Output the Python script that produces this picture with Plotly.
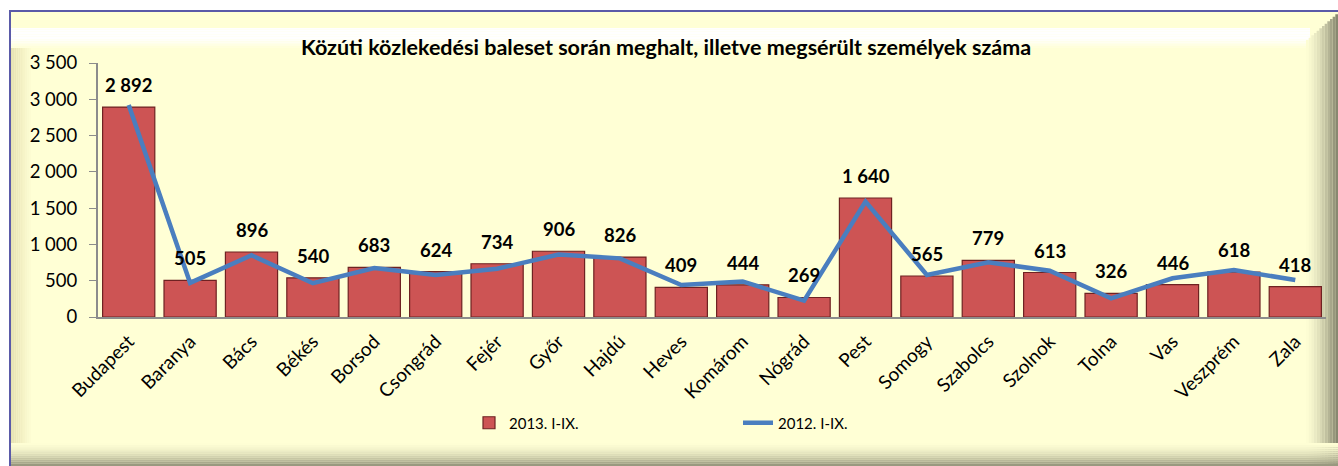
import plotly.graph_objects as go

categories = ["Budapest", "Baranya", "Bács", "Békés", "Borsod", "Csongrád", "Fejér", "Győr",
              "Hajdú", "Heves", "Komárom", "Nógrád", "Pest", "Somogy", "Szabolcs", "Szolnok",
              "Tolna", "Vas", "Veszprém", "Zala"]
values_2013 = [2892, 505, 896, 540, 683, 624, 734, 906, 826, 409, 444, 269, 1640, 565, 779, 613,
               326, 446, 618, 418]
values_2012 = [2920, 470, 850, 465, 675, 580, 665, 860, 808, 440, 490, 225, 1590, 578, 753, 638,
               257, 533, 647, 510]
y_ticks = [0, 500, 1000, 1500, 2000, 2500, 3000, 3500]
title_text = "Közúti közlekedési baleset során meghalt, illetve megsérült személyek száma"
name_2013 = "2013. I-IX."
name_2012 = "2012. I-IX."

W, H = 1338, 466
ML, MR, MT, MB = 98, 12, 63, 149
PW = W - ML - MR
PH = H - MT - MB
FONT = "Lato"


def px(x):
    return (x - ML) / PW


def py(y):
    return (H - MB - y) / PH


def lerp(c1, c2, t):
    return "rgb(%d,%d,%d)" % tuple(round(a + (b - a) * t) for a, b in zip(c1, c2))


shapes = []
bg = (255, 255, 213)
olive = (136, 136, 112)
# main frame
shapes.append(dict(type="rect", xref="paper", yref="paper", x0=px(10), x1=px(1340), y0=py(468), y1=py(11),
                   fillcolor="rgb(255,255,213)", line=dict(color="#5a5aa8", width=2), layer="below"))
n = 12
# top white band
for i in range(n):
    t = i / n
    shapes.append(dict(type="rect", xref="paper", yref="paper", x0=px(11), x1=px(1310),
                       y0=py(28 + 20 * (i + 1) / n), y1=py(28 + 20 * i / n),
                       fillcolor=lerp((255, 255, 255), bg, (t - 0.5) * 2 if t > 0.5 else 0),
                       line=dict(width=0), layer="below"))
# right gradient
for i in range(n):
    t = (i + 1) / n
    shapes.append(dict(type="rect", xref="paper", yref="paper",
                       x0=px(1306 + 32 * i / n), x1=px(1306 + 32 * (i + 1) / n),
                       y0=py(466), y1=py(40 - 28 * i / n),
                       fillcolor=lerp(bg, olive, t ** 1.6), line=dict(width=0), layer="below"))
# bottom gradient
for i in range(n):
    t = (i + 1) / n
    shapes.append(dict(type="rect", xref="paper", yref="paper", x0=px(11), x1=px(1338),
                       y0=py(443 + 25 * (i + 1) / n), y1=py(443 + 25 * i / n),
                       fillcolor=lerp(bg, olive, t ** 1.8), line=dict(width=0), layer="below"))
# left gradient
for i in range(n):
    t = 1 - (i + 1) / n
    shapes.append(dict(type="rect", xref="paper", yref="paper",
                       x0=px(11 + 22 * i / n), x1=px(11 + 22 * (i + 1) / n),
                       y0=py(443), y1=py(48),
                       fillcolor=lerp(bg, (228, 223, 175), t), line=dict(width=0), layer="below"))

fig = go.Figure()
fig.add_trace(go.Bar(
    x=categories, y=values_2013, name=name_2013,
    marker=dict(color="#cd5454", line=dict(color="#6e2222", width=1.2)),
))
fig.add_trace(go.Scatter(
    x=categories, y=values_2012, name=name_2012, mode="lines",
    line=dict(color="#4a7ebf", width=4.5),
))

annotations = [dict(x=c, y=v, text=f"{v:,}".replace(",", " "), showarrow=False, yshift=22,
                    font=dict(family=FONT, size=18.5, color="black", weight="bold"))
               for c, v in zip(categories, values_2013)]
annotations.append(dict(x=px(666), xref="paper", xanchor="center", y=py(47), yref="paper", yanchor="middle",
                        text="<b>" + title_text + "</b>", showarrow=False,
                        font=dict(family=FONT, size=21.5, color="black")))

fig.update_layout(
    width=W, height=H,
    margin=dict(l=ML, r=MR, t=MT, b=MB, autoexpand=False),
    paper_bgcolor="white", plot_bgcolor="rgba(0,0,0,0)",
    separators=", ",
    bargap=0.15,
    shapes=shapes,
    annotations=annotations,
    showlegend=True,
    legend=dict(orientation="h", x=px(469), xanchor="left", y=py(423), yanchor="middle",
                font=dict(family=FONT, size=15, color="black"), entrywidth=224, entrywidthmode="pixels",
                bgcolor="rgba(0,0,0,0)", traceorder="normal"),
    font=dict(family=FONT, color="black"),
)
fig.update_xaxes(showgrid=False, showline=True, linecolor="#8c8c8c", linewidth=2, tickangle=-45,
                 tickfont=dict(family=FONT, size=19), ticks="", zeroline=False, ticklabelstandoff=4)
fig.update_yaxes(range=[0, 3500], tickvals=y_ticks, tickformat=",", showgrid=False, showline=True,
                 linecolor="#8c8c8c", linewidth=2, ticks="outside", ticklen=7, tickcolor="#8c8c8c",
                 ticklabelstandoff=8, tickfont=dict(family=FONT, size=18.5), zeroline=False)

fig.write_html("out.html", config={"displayModeBar": False},
               post_script="document.body.style.margin='0';document.body.style.overflow='hidden';")
